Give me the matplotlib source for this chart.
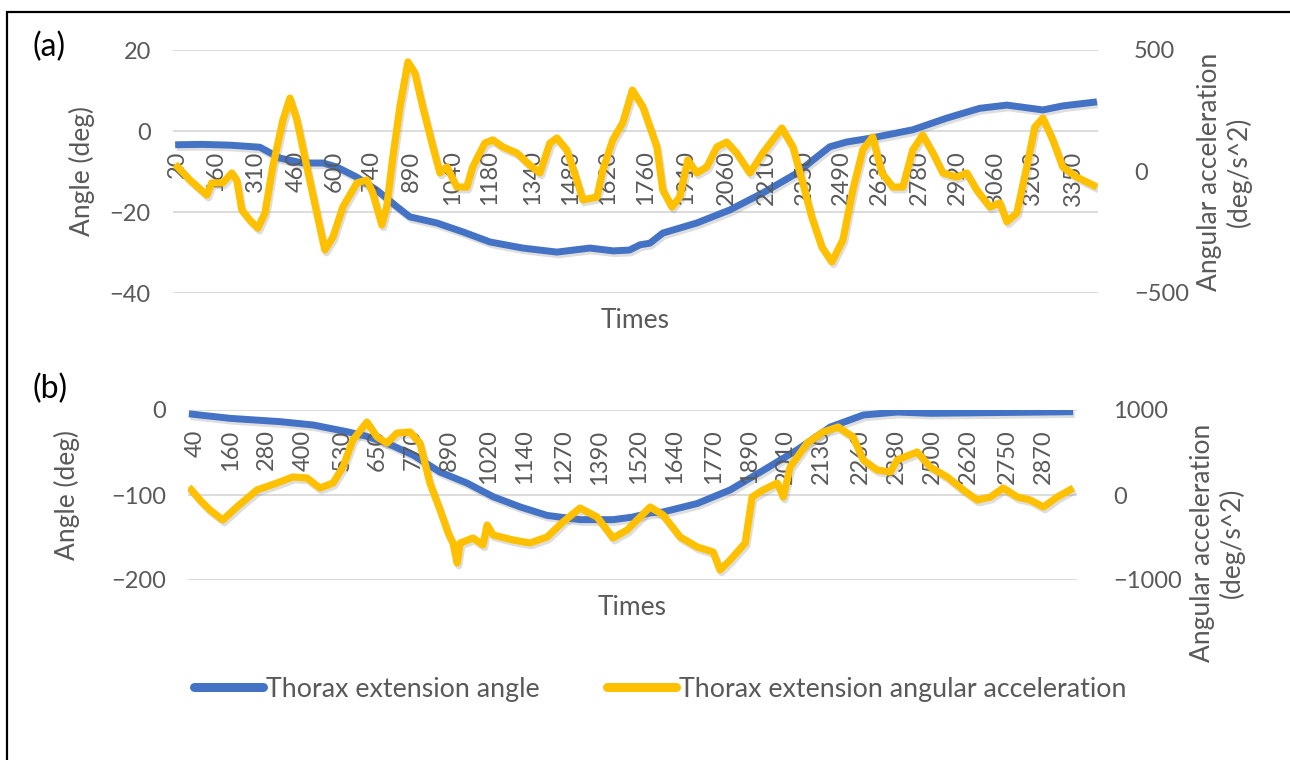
import matplotlib
matplotlib.use("Agg")
import matplotlib.pyplot as plt
import matplotlib.patheffects as pe
from matplotlib.patches import Rectangle

plt.rcParams['font.family'] = ['Lato', 'DejaVu Sans']

# ---------------- data ----------------
# (a) thorax extension angle (deg) vs time
a_angle_t = [10, 110, 215, 325, 400, 485, 560, 611, 686, 760, 835, 883, 983, 1080,
             1181, 1303, 1430, 1553, 1640, 1700, 1739, 1776, 1824, 1951, 2073, 2196,
             2323, 2382, 2445, 2509, 2594, 2754, 2881, 3003, 3104, 3238, 3312, 3439]
a_angle = [-3.4, -3.3, -3.5, -4.0, -6.7, -7.9, -7.9, -8.9, -11.4, -14.6, -18.7, -21.2,
           -22.7, -24.9, -27.4, -28.9, -29.9, -28.9, -29.6, -29.4, -28.1, -27.7, -25.2,
           -22.7, -19.5, -15.3, -10.4, -7.2, -3.9, -2.7, -1.8, 0.3, 3.2, 5.6, 6.4, 5.2,
           6.2, 7.2]

# (a) thorax extension angular acceleration (deg/s^2) vs time
a_acc_t = [10, 65, 128, 146, 187, 221, 239, 258, 288, 318,
           344, 373, 411, 437, 463, 500, 537, 567, 597, 634,
           686, 723, 745, 779, 797, 820, 846, 876, 902, 931,
           969, 995, 1021, 1058, 1095, 1117, 1162, 1192, 1229, 1281,
           1329, 1367, 1404, 1430, 1467, 1504, 1527, 1579, 1601, 1638,
           1675, 1711, 1750, 1802, 1824, 1858, 1887, 1917, 1951, 1988,
           2025, 2062, 2099, 2148, 2196, 2267, 2308, 2345, 2378, 2416,
           2453, 2494, 2531, 2568, 2605, 2639, 2680, 2717, 2754, 2791,
           2829, 2866, 2918, 2955, 2992, 3041, 3078, 3104, 3141, 3178,
           3208, 3238, 3275, 3312, 3364, 3439]
a_acc = [30, -35, -97, -47, -47, -6, -35, -158, -200, -233,
         -171, 19, 212, 302, 212, 19, -171, -323, -270, -146,
         -47, -35, -88, -220, -146, 60, 266, 451, 405, 266,
         101, -6, 19, -64, -64, 19, 117, 130, 101, 76,
         27, -6, 117, 138, 89, -35, -117, -105, 6, 130,
         200, 335, 266, 101, -76, -146, -105, 47, -6, 19,
         101, 121, 76, -6, 76, 179, 101, -47, -187, -311,
         -372, -282, -76, 89, 142, -6, -64, -64, 89, 150,
         76, -6, -23, -6, -76, -146, -129, -207, -171, 19,
         183, 220, 130, 19, -23, -64]

a_ticks = [20, 160, 310, 460, 600, 740, 890, 1040, 1180, 1340, 1480, 1620,
           1760, 1910, 2060, 2210, 2350, 2490, 2630, 2780, 2920, 3060, 3200, 3350]

# (b) thorax extension angle (deg) vs time
b_angle_t = [20, 157, 324, 434, 547, 614, 681, 768, 858, 948, 1035, 1125, 1215,
             1325, 1435, 1500, 1560, 1602, 1716, 1826, 1936, 2049, 2160, 2270,
             2383, 2493, 2717, 2970]
b_angle = [-4.5, -9.8, -13.7, -17.6, -25.5, -31, -39, -53, -73, -86, -102, -114,
           -124, -129, -129, -126, -121, -120, -110, -94, -71, -47, -20, -5.9,
           -2.4, -3.9, -3, -2]

# (b) thorax extension angular acceleration (deg/s^2) vs time
b_acc_t = [20, 57, 90, 133, 180, 247, 314, 367, 414, 457,
           501, 534, 567, 614, 648, 681, 714, 758, 791, 824,
           858, 885, 901, 915, 925, 968, 1001, 1015, 1035, 1101,
           1158, 1215, 1268, 1325, 1382, 1435, 1482, 1559, 1602, 1659,
           1716, 1769, 1792, 1826, 1876, 1899, 1936, 1983, 2003, 2026,
           2083, 2136, 2186, 2236, 2270, 2316, 2360, 2383, 2450, 2493,
           2550, 2604, 2650, 2694, 2737, 2784, 2827, 2871, 2917, 2971]
b_acc = [94, -59, -176, -294, -141, 59, 141, 212, 200, 82,
         141, 329, 647, 858, 682, 611, 729, 741, 611, 141,
         -176, -447, -565, -800, -565, -506, -588, -353, -470, -529,
         -565, -494, -318, -153, -259, -506, -412, -141, -235, -494,
         -612, -670, -882, -764, -565, -24, 59, 141, -24, 329,
         611, 741, 800, 682, 412, 294, 270, 412, 506, 329,
         212, 59, -59, -24, 82, -24, -59, -141, -24, 82]

b_ticks = [40, 160, 280, 400, 530, 650, 770, 890, 1020, 1140, 1270, 1390,
           1520, 1640, 1770, 1890, 2010, 2130, 2260, 2380, 2500, 2620, 2750, 2870]

series_names = ['Thorax extension angle', 'Thorax extension angular acceleration']

# ---------------- style ----------------
W, H = 1290, 760
BLUE = '#4472C4'
GOLD = '#FFC000'
GRID = '#D9D9D9'
TXT = '#595959'
TICK_FS = 17
TITLE_FS = 19

shadow = [pe.SimpleLineShadow(offset=(1.2, -2.0), shadow_color='#7f7f7f', alpha=0.25),
          pe.Normal()]

fig = plt.figure(figsize=(W / 100, H / 100), dpi=100)


def panel(rect, t_ang, ang, t_acc, acc, ticks, ylim_l, yticks_l, ylim_r, yticks_r,
          xlim, zero_frac, times_y, rlabel_x, rlabel_y, llabel_x):
    ax = fig.add_axes(rect)
    axr = ax.twinx()
    for a in (ax, axr):
        for s in a.spines.values():
            s.set_visible(False)
    ax.set_xlim(*xlim)
    ax.set_ylim(*ylim_l)
    ax.set_yticks(yticks_l)
    ax.grid(axis='y', color=GRID, lw=1.3)
    ax.set_axisbelow(True)
    ax.tick_params(axis='y', length=0, pad=16, labelsize=TICK_FS, labelcolor=TXT)
    ax.tick_params(axis='x', bottom=False, labelbottom=False)

    axr.set_ylim(*ylim_r)
    axr.set_yticks(yticks_r)
    axr.tick_params(axis='y', length=0, pad=26, labelsize=TICK_FS, labelcolor=TXT)

    lb, = ax.plot(t_ang, ang, color=BLUE, lw=5.0, solid_capstyle='butt',
                  solid_joinstyle='round', path_effects=shadow)
    ly, = axr.plot(t_acc, acc, color=GOLD, lw=5.2, solid_capstyle='butt',
                   solid_joinstyle='round', path_effects=shadow)

    # category labels sit along the zero line of the angle axis
    axr.xaxis.set_visible(True)
    axr.spines['bottom'].set_position(('axes', zero_frac))
    axr.set_xticks(ticks)
    axr.set_xticklabels([str(v) for v in ticks], rotation=90)
    axr.tick_params(axis='x', length=0, pad=14, labelsize=TICK_FS, labelcolor=TXT,
                    bottom=True, labelbottom=True)
    axr.set_xlim(*xlim)

    axr.set_xlabel('Times', fontsize=TITLE_FS, color=TXT)
    axr.xaxis.set_label_coords(0.5, times_y)
    ax.set_ylabel('Angle (deg)', fontsize=TITLE_FS, color=TXT)
    ax.yaxis.set_label_coords(llabel_x, 0.5)
    axr.set_ylabel('Angular acceleration\n(deg/s^2)', fontsize=TITLE_FS, color=TXT,
                   multialignment='center', rotation=90)
    axr.yaxis.set_label_coords(rlabel_x, rlabel_y)
    return lb, ly


lb, ly = panel([173 / W, 1 - 293 / H, 925 / W, 243 / H],
               a_angle_t, a_angle, a_acc_t, a_acc, a_ticks,
               (-40, 20), [-40, -20, 0, 20], (-500, 500), [-500, 0, 500],
               (2, 3443), 2 / 3, -0.062, 1.107, 0.5, -0.084)

panel([188 / W, 1 - 580 / H, 889 / W, 170 / H],
      b_angle_t, b_angle, b_acc_t, b_acc, b_ticks,
      (-200, 0), [-200, -100, 0], (-1000, 1000), [-1000, 0, 1000],
      (17, 2983), 1.0, -0.088, 1.127, 0.218, -0.1215)

fig.text(32 / W, 1 - 47 / H, '(a)', fontsize=23, color='black', ha='left', va='center')
fig.text(32 / W, 1 - 389 / H, '(b)', fontsize=23, color='black', ha='left', va='center')

leg = fig.legend([lb, ly], series_names, loc='center', ncol=2, frameon=False,
                 bbox_to_anchor=(660 / W, 1 - 689 / H), fontsize=19.3,
                 handlelength=2.6, handletextpad=0.1, columnspacing=2.5,
                 labelcolor=TXT)
for h in leg.legend_handles:
    h.set_path_effects([])
    h.set_linewidth(6.5)
    h.set_solid_capstyle('round')

# outer frame
fig.patches.append(Rectangle((7 / W, -0.05), 1.2, 1.05 - 12 / H,
                             transform=fig.transFigure, fill=False,
                             ec='black', lw=1.6))

fig.savefig('out.png', dpi=100)
